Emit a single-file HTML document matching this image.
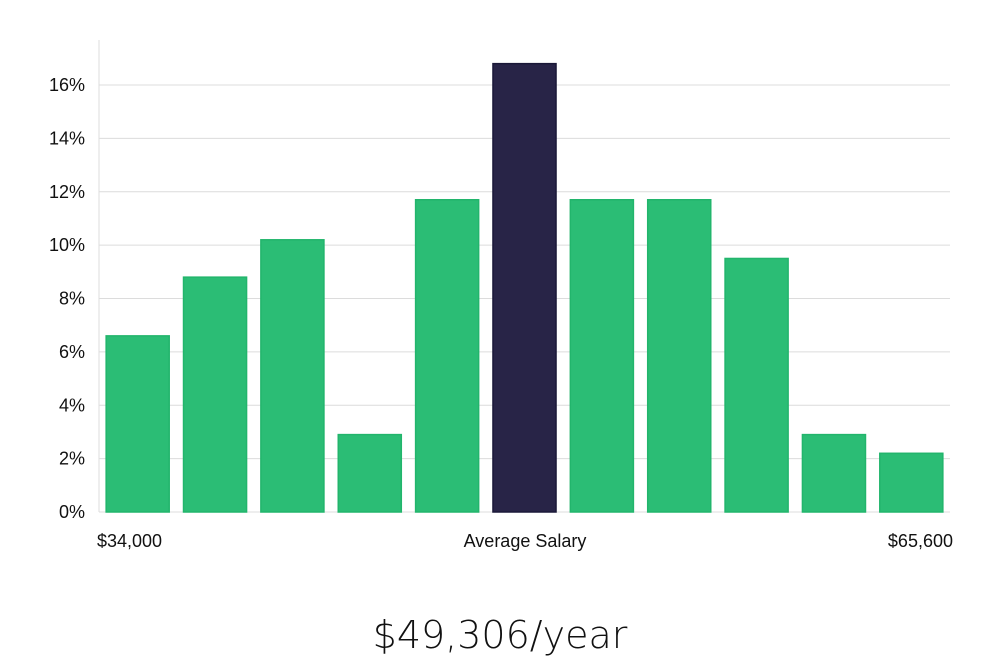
<!DOCTYPE html>
<html><head><meta charset="utf-8"><style>
body{margin:0;background:#fff;width:1000px;height:660px;overflow:hidden;font-family:"Liberation Sans","DejaVu Sans",sans-serif}
</style></head><body>
<svg width="1000" height="660" xmlns="http://www.w3.org/2000/svg">
<g id="grid"></g>
<g id="bars"></g>
<g id="yt"></g>
<line x1="99" y1="40" x2="99" y2="512" stroke="#dddddd" stroke-width="1"/>
<text x="97" y="547" font-size="18" fill="#111">$34,000</text>
<text x="525" y="547" font-size="18" fill="#111" text-anchor="middle">Average Salary</text>
<text x="953" y="547" font-size="18" fill="#111" text-anchor="end">$65,600</text>
<text x="500" y="648" font-size="38" fill="#111" text-anchor="middle" font-family="DejaVu Sans, sans-serif" font-weight="200">$49,306/year</text>
</svg>
<script>
const categories=["b1","b2","b3","b4","b5","b6","b7","b8","b9","b10","b11"];
const values=[6.6,8.8,10.2,2.9,11.7,16.8,11.7,11.7,9.5,2.9,2.2];
const highlightIndex=5;
const yTicks=[0,2,4,6,8,10,12,14,16];
const NS="http://www.w3.org/2000/svg";
const x0=99,x1=950,yBase=512,pxPerPct=(512-85)/16;
function y(v){return yBase-v*pxPerPct;}
function slot(i){return x0+(x1-x0)/categories.length*i;}
const sw=(x1-x0)/categories.length;
const grid=document.getElementById('grid'),yt=document.getElementById('yt'),bars=document.getElementById('bars');
yTicks.forEach(t=>{
  const l=document.createElementNS(NS,'line');
  l.setAttribute('x1',x0);l.setAttribute('x2',x1);l.setAttribute('y1',y(t));l.setAttribute('y2',y(t));
  l.setAttribute('stroke','#dcdcdc');l.setAttribute('stroke-width','1');
  
  
  grid.appendChild(l);
  const tx=document.createElementNS(NS,'text');
  tx.setAttribute('x',85);tx.setAttribute('y',y(t)+6);tx.setAttribute('text-anchor','end');
  tx.setAttribute('font-size','18');tx.setAttribute('fill','#111');
  tx.textContent=t+'%';
  
  
  yt.appendChild(tx);
});
values.forEach((v,i)=>{
  const r=document.createElementNS(NS,'rect');
  const bw=sw*0.815;
  r.setAttribute('x',slot(i)+(sw-bw)/2);r.setAttribute('width',bw);
  r.setAttribute('y',y(v));r.setAttribute('height',yBase-y(v));
  const hl=i===highlightIndex;
  r.setAttribute('fill',hl?'#282447':'#2bbd75');
  r.setAttribute('stroke',hl?'#1a1838':'#22b56c');r.setAttribute('stroke-width','1.5');
  
  
  bars.appendChild(r);
});
</script>
</body></html>
